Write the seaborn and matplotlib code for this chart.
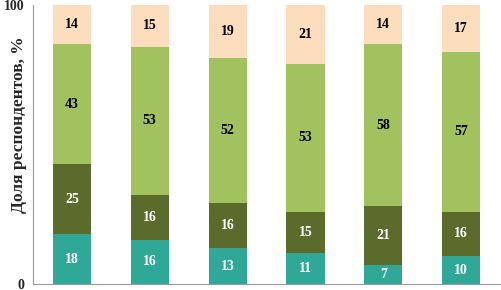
import matplotlib as mpl
import matplotlib.pyplot as plt
import seaborn as sns
import pandas as pd
import numpy as np

groups = ['1', '2', '3', '4', '5', '6']
seg_teal = [18, 16, 13, 11, 7, 10]
seg_dark = [25, 16, 16, 15, 21, 16]
seg_light = [43, 53, 52, 53, 58, 57]
seg_peach = [14, 15, 19, 21, 14, 17]

colors = ['#2FA898', '#5A6B2B', '#A2C260', '#FCDDBE']
text_colors = ['white', 'white', 'black', 'black']

sns.set_style('white')
mpl.rcParams['font.family'] = ['Liberation Serif', 'DejaVu Serif']
mpl.rcParams['font.weight'] = 'bold'

segments = [seg_teal, seg_dark, seg_light, seg_peach]
cum = np.cumsum(np.array(segments), axis=0)

df = pd.DataFrame({'group': groups})
for i in range(4):
  df[f'c{i}'] = cum[i]

fig = plt.figure(figsize=(5.01, 2.90), dpi=100)
ax = fig.add_axes([0.066, 0.02, 0.932, 0.963])

# draw cumulative totals from top to bottom so lower segments overlay
for i in [3, 2, 1, 0]:
  sns.barplot(data=df, x='group', y=f'c{i}', color=colors[i], width=0.49,
              saturation=1, edgecolor='none', linewidth=0, ax=ax)

for j in range(len(groups)):
  base = 0
  for i in range(4):
    v = segments[i][j]
    ax.text(j, base + v / 2, str(v), ha='center', va='center',
            fontsize=10, fontweight='bold', color=text_colors[i])
    base += v

ax.set_ylim(0, 100)
ax.set_xlim(-0.5, len(groups) - 0.5)
ax.set_yticks([0, 100])
ax.set_yticklabels(['0', '100'], fontsize=10, fontweight='bold')
ax.set_xticks(np.arange(-0.5, len(groups), 1.0))
ax.set_xticklabels([])
ax.tick_params(axis='both', direction='out', length=4, color='#9a9a9a', width=0.8)
ax.tick_params(axis='y', pad=2)
ax.set_xlabel('')
ax.set_ylabel('')
fig.text(19 / 501, 0.569, 'Доля респондентов, %', rotation=90, ha='center', va='center',
         fontsize=12.5, fontweight='bold')

sns.despine(ax=ax, top=True, right=True)
for s in ['left', 'bottom']:
  ax.spines[s].set_color('#9a9a9a')
  ax.spines[s].set_linewidth(0.8)

plt.savefig('out.png', dpi=100)
